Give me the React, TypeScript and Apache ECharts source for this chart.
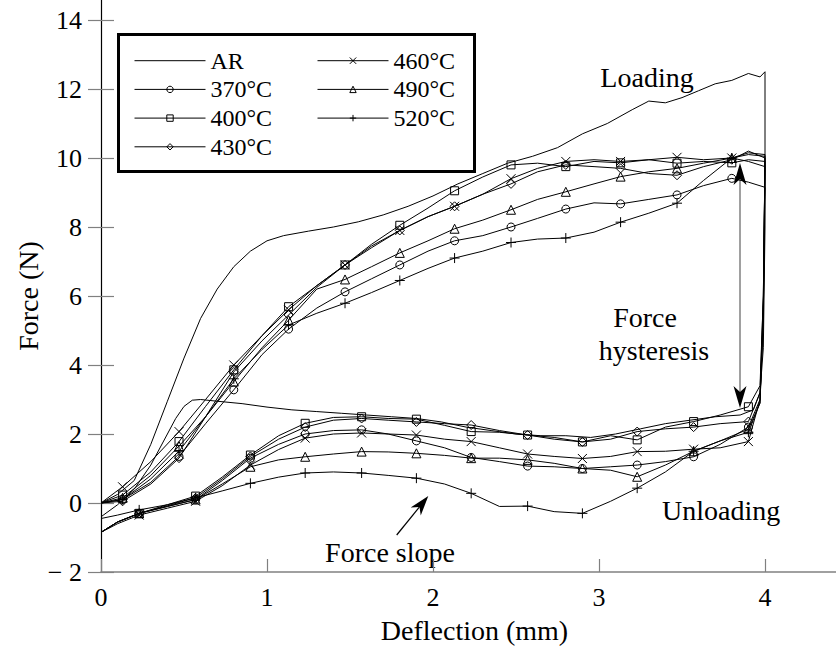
import React, { useEffect, useRef } from 'react';
import * as echarts from 'echarts';

const FONT = "'Liberation Serif', 'Times New Roman', serif";

// ---- data ----
const LOAD_X = [0, 0.13, 0.3, 0.47, 0.63, 0.8, 0.97, 1.13, 1.3, 1.47, 1.63, 1.8, 1.97, 2.13, 2.3, 2.47, 2.63, 2.8, 2.97, 3.13, 3.3, 3.47, 3.63, 3.8, 3.9, 4.0];
const UNLOAD_X = [4.0, 3.99, 3.97, 3.9, 3.73, 3.57, 3.4, 3.23, 3.07, 2.9, 2.73, 2.57, 2.4, 2.23, 2.07, 1.9, 1.73, 1.57, 1.4, 1.23, 1.07, 0.9, 0.73, 0.57, 0.4, 0.23, 0.1, 0];
const LOAD_MARK_X = [0.13, 0.47, 0.8, 1.13, 1.47, 1.8, 2.13, 2.47, 2.8, 3.13, 3.47, 3.8];
const UNLOAD_MARK_X = [3.9, 3.57, 3.23, 2.9, 2.57, 2.23, 1.9, 1.57, 1.23, 0.9, 0.57, 0.23];

const L370 = [0, 0.1, 0.6, 1.35, 2.3, 3.28, 4.3, 5.04, 5.65, 6.12, 6.5, 6.9, 7.3, 7.6, 7.75, 8.0, 8.25, 8.52, 8.7, 8.67, 8.8, 8.93, 9.2, 9.41, 9.3, 9.15];
const L400 = [0, 0.23, 0.9, 1.78, 2.8, 3.86, 4.85, 5.69, 6.3, 6.9, 7.5, 8.05, 8.55, 9.05, 9.45, 9.8, 9.85, 9.75, 9.9, 9.86, 9.95, 9.85, 9.9, 9.86, 9.95, 9.9];
const L430 = [0, 0.05, 0.55, 1.3, 2.5, 3.8, 4.7, 5.45, 6.25, 6.9, 7.4, 7.9, 8.3, 8.6, 8.95, 9.25, 9.6, 9.8, 9.75, 9.7, 9.55, 9.5, 9.75, 9.95, 10.2, 10.0];
const L460 = [0, 0.47, 1.2, 2.07, 3.0, 4.0, 4.85, 5.6, 6.3, 6.9, 7.45, 7.9, 8.3, 8.6, 8.95, 9.4, 9.7, 9.9, 9.95, 9.9, 9.95, 10.02, 9.95, 10.0, 10.15, 10.1];
const L490 = [0, 0.15, 0.8, 1.65, 2.5, 3.52, 4.5, 5.3, 6.2, 6.48, 6.85, 7.25, 7.6, 7.95, 8.2, 8.5, 8.8, 9.02, 9.25, 9.46, 9.6, 9.7, 9.85, 10.0, 9.9, 9.75];
const L520 = [0, 0.1, 0.7, 1.5, 2.5, 3.6, 4.45, 5.16, 5.5, 5.79, 6.1, 6.45, 6.8, 7.1, 7.3, 7.55, 7.65, 7.68, 7.85, 8.14, 8.4, 8.69, 9.35, 10.0, 10.1, 10.05];

const U370 = [9.15, 5.5, 3.0, 2.2, 1.7, 1.34, 1.2, 1.1, 1.05, 1.0, 1.05, 1.07, 1.2, 1.32, 1.6, 1.8, 2.0, 2.12, 2.1, 2.0, 1.7, 1.3, 0.65, 0.1, -0.1, -0.3, -0.55, -0.85];
const U400 = [9.9, 6.0, 3.4, 2.79, 2.55, 2.36, 2.2, 1.83, 1.95, 1.77, 1.85, 1.97, 2.05, 2.07, 2.25, 2.43, 2.45, 2.5, 2.48, 2.31, 1.95, 1.39, 0.75, 0.2, -0.05, -0.3, -0.55, -0.85];
const U430 = [10.0, 6.0, 3.2, 2.36, 2.3, 2.2, 2.15, 2.07, 1.85, 1.77, 1.9, 1.97, 2.1, 2.26, 2.3, 2.35, 2.4, 2.45, 2.4, 2.2, 1.85, 1.35, 0.7, 0.15, -0.08, -0.3, -0.55, -0.85];
const U460 = [10.1, 5.8, 3.0, 1.78, 1.6, 1.56, 1.5, 1.49, 1.35, 1.29, 1.35, 1.42, 1.6, 1.78, 1.85, 1.97, 2.0, 2.03, 2.0, 1.88, 1.55, 1.1, 0.5, 0.05, -0.15, -0.35, -0.6, -0.85];
const U490 = [9.75, 5.5, 2.9, 2.14, 1.8, 1.5, 1.1, 0.76, 0.95, 1.0, 1.15, 1.25, 1.3, 1.3, 1.38, 1.44, 1.48, 1.49, 1.42, 1.34, 1.25, 1.05, 0.55, 0.1, -0.1, -0.3, -0.55, -0.85];
const U520 = [10.05, 5.5, 2.9, 2.05, 1.8, 1.5, 0.9, 0.43, 0.05, -0.3, -0.25, -0.09, -0.1, 0.28, 0.55, 0.72, 0.8, 0.87, 0.9, 0.87, 0.75, 0.57, 0.35, 0.15, -0.05, -0.2, -0.35, -0.45];

const AR_LOAD_X = [0, 0.1, 0.2, 0.3, 0.4, 0.5, 0.6, 0.7, 0.8, 0.9, 1.0, 1.1, 1.25, 1.4, 1.55, 1.7, 1.85, 2.0, 2.15, 2.3, 2.45, 2.6, 2.75, 2.9, 3.05, 3.2, 3.3, 3.4, 3.5, 3.6, 3.7, 3.8, 3.9, 3.97, 4.0];
const AR_LOAD_Y = [0, 0.25, 0.65, 1.7, 2.95, 4.2, 5.35, 6.2, 6.85, 7.3, 7.6, 7.75, 7.88, 8.0, 8.15, 8.35, 8.6, 8.9, 9.25, 9.55, 9.85, 10.05, 10.3, 10.7, 11.0, 11.4, 11.65, 11.6, 11.75, 11.95, 12.15, 12.25, 12.45, 12.35, 12.5];
const AR_UNLOAD_X = [4.0, 4.0, 3.99, 3.97, 3.93, 3.85, 3.7, 3.55, 3.4, 3.25, 3.1, 2.95, 2.8, 2.65, 2.5, 2.35, 2.2, 2.05, 1.9, 1.75, 1.6, 1.45, 1.3, 1.15, 1.0, 0.85, 0.7, 0.6, 0.55, 0.5, 0.45, 0.4, 0.3, 0.2, 0.1, 0];
const AR_UNLOAD_Y = [12.5, 8.0, 4.5, 3.2, 2.7, 2.55, 2.5, 2.4, 2.3, 2.15, 2.0, 1.9, 1.95, 1.95, 2.0, 2.1, 2.2, 2.35, 2.45, 2.5, 2.55, 2.6, 2.65, 2.7, 2.78, 2.88, 2.95, 3.0, 2.98, 2.8, 2.45, 2.0, 1.1, 0.4, -0.05, -0.4];

const SERIES_NAMES = ['AR', '370°C', '400°C', '430°C', '460°C', '490°C', '520°C'];
const LEGEND_COL1 = ['AR', '370°C', '400°C', '430°C'];
const LEGEND_COL2 = ['460°C', '490°C', '520°C'];

const X_TICKS = [0, 1, 2, 3, 4];

// ---- helpers ----
const near = (a: number, list: number[]) => list.some((v) => Math.abs(v - a) < 1e-6);
function branch(xs: number[], ys: number[], marks: number[]) {
  return xs.map((x, i) =>
    near(x, marks) ? { value: [x, ys[i]] } : { value: [x, ys[i]], symbol: 'none' }
  );
}

const SYM_X = 'path://M0 0L10 10M10 0L0 10';
const SYM_PLUS = 'path://M5 0L5 10M0 5L10 5';

const markerCurves = [
  { name: SERIES_NAMES[1], symbol: 'circle', size: 8, load: L370, unload: U370 },
  { name: SERIES_NAMES[2], symbol: 'rect', size: 8, load: L400, unload: U400 },
  { name: SERIES_NAMES[3], symbol: 'diamond', size: 9, load: L430, unload: U430 },
  { name: SERIES_NAMES[4], symbol: SYM_X, size: 9, load: L460, unload: U460 },
  { name: SERIES_NAMES[5], symbol: 'triangle', size: 9, load: L490, unload: U490 },
  { name: SERIES_NAMES[6], symbol: SYM_PLUS, size: 10, load: L520, unload: U520 },
];

function buildOption(): any {
  const series: any[] = [
    {
      type: 'line',
      name: SERIES_NAMES[0],
      symbol: 'none',
      showSymbol: false,
      data: [
        ...AR_LOAD_X.map((x, i) => [x, AR_LOAD_Y[i]]),
        ...AR_UNLOAD_X.map((x, i) => [x, AR_UNLOAD_Y[i]]),
      ],
      lineStyle: { color: '#000', width: 1 },
      itemStyle: { color: 'rgba(0,0,0,0)', borderColor: 'rgba(0,0,0,0)', borderWidth: 0 },
      silent: true,
    },
    ...markerCurves.map((c) => ({
      type: 'line',
      name: c.name,
      symbol: c.symbol,
      symbolSize: c.size,
      showSymbol: true,
      showAllSymbol: true,
      data: [...branch(LOAD_X, c.load, LOAD_MARK_X), ...branch(UNLOAD_X, c.unload, UNLOAD_MARK_X)],
      lineStyle: { color: '#000', width: 1 },
      itemStyle: { color: 'rgba(0,0,0,0)', borderColor: '#000', borderWidth: 1 },
      silent: true,
    })),
  ];

  const legendBase = {
    orient: 'vertical',
    top: 48.7,
    padding: 0,
    itemGap: 4.7,
    itemWidth: 71,
    itemHeight: 8,
    itemTextGap: 10,
    selectedMode: false,
    textStyle: { fontFamily: FONT, fontSize: 24, color: '#000', lineHeight: 24 },
    itemStyle: { color: 'rgba(0,0,0,0)', borderColor: '#000', borderWidth: 1 },
    lineStyle: { color: '#000', width: 1 },
  };

  const textStyle = (text: string, x: number, y: number, align = 'center') => ({
    type: 'text',
    x,
    y,
    silent: true,
    style: {
      text,
      fill: '#000',
      fontFamily: FONT,
      fontSize: 28,
      align,
      verticalAlign: 'middle',
      textAlign: align,
      textVerticalAlign: 'middle',
    },
  });

  return {
    animation: false,
    backgroundColor: '#fff',
    grid: { left: 101, top: -49, width: 747, height: 621, outerBoundsMode: 'none', containLabel: false },
    xAxis: {
      type: 'value',
      min: 0,
      max: 4.5,
      interval: 1,
      name: 'Deflection (mm)',
      nameLocation: 'middle',
      nameGap: 44,
      nameTextStyle: { fontFamily: FONT, fontSize: 28, color: '#000' },
      axisLine: { show: true, onZero: false, lineStyle: { color: '#808080', width: 1.5 } },
      axisTick: { show: true, inside: true, length: 13, lineStyle: { color: '#808080', width: 1.2 } },
      axisLabel: {
        margin: 12,
        fontFamily: FONT,
        fontSize: 26,
        color: '#000',
        formatter: (v: number) => (near(v, X_TICKS) ? String(v) : ''),
      },
      splitLine: { show: false },
    },
    yAxis: [
      {
        type: 'value',
        min: -2,
        max: 16,
        interval: 2,
        position: 'left',
        axisLine: { show: true, onZero: false, lineStyle: { color: '#000', width: 1.2 } },
        axisTick: { show: true, inside: true, length: 13, lineStyle: { color: '#808080', width: 1.2 } },
        axisLabel: {
          margin: 19,
          fontFamily: FONT,
          fontSize: 26,
          color: '#000',
          formatter: (v: number) => (v > 14 ? '' : v < 0 ? '\u2212 ' + Math.abs(v) : String(v)),
        },
        splitLine: { show: false },
      },
      {
        type: 'value',
        min: -2,
        max: 16,
        interval: 2,
        position: 'right',
        axisLine: { show: false },
        axisTick: { show: true, inside: true, length: 13, lineStyle: { color: '#808080', width: 1.2 } },
        axisLabel: { show: false },
        splitLine: { show: false },
      },
    ],
    legend: [
      {
        ...legendBase,
        left: 134,
        data: LEGEND_COL1.map((n) =>
          n === 'AR' ? { name: n, itemStyle: { borderColor: 'rgba(0,0,0,0)', borderWidth: 0 } } : { name: n }
        ),
      },
      { ...legendBase, left: 317, data: LEGEND_COL2.map((n) => ({ name: n })) },
    ],
    series,
    graphic: [
      {
        type: 'rect',
        silent: true,
        z: 100,
        shape: { x: 118.5, y: 34.5, width: 356, height: 137 },
        style: { fill: 'none', stroke: '#000', lineWidth: 3 },
      },
      {
        type: 'text',
        x: 28,
        y: 296,
        rotation: Math.PI / 2,
        silent: true,
        style: {
          text: 'Force (N)',
          fill: '#000',
          fontFamily: FONT,
          fontSize: 28,
          align: 'center',
          verticalAlign: 'middle',
          textAlign: 'center',
          textVerticalAlign: 'middle',
        },
      },
      textStyle('Loading', 647, 77),
      textStyle('Force', 645, 317),
      textStyle('hysteresis', 654, 350),
      textStyle('Unloading', 662, 510, 'left'),
      textStyle('Force slope', 390, 552),
      // hysteresis double arrow
      {
        type: 'line',
        silent: true,
        shape: { x1: 740, y1: 178, x2: 740, y2: 393 },
        style: { stroke: '#808080', lineWidth: 1.5 },
      },
      {
        type: 'polygon',
        silent: true,
        shape: { points: [[740, 163], [733.5, 185], [740, 179], [746.5, 185]] },
        style: { fill: '#000' },
      },
      {
        type: 'polygon',
        silent: true,
        shape: { points: [[740, 408], [733.5, 386], [740, 392], [746.5, 386]] },
        style: { fill: '#000' },
      },
      // force slope arrow
      {
        type: 'line',
        silent: true,
        shape: { x1: 396.7, y1: 535, x2: 419.5, y2: 506.9 },
        style: { stroke: '#000', lineWidth: 1.2 },
      },
      {
        type: 'polygon',
        silent: true,
        shape: { points: [[428.3, 496], [410.65, 507.4], [419.5, 506.9], [420.75, 515.6]] },
        style: { fill: '#000' },
      },
    ],
  };
}

export default function App() {
  const ref = useRef<HTMLDivElement>(null);
  useEffect(() => {
    if (!ref.current) return;
    const chart = echarts.init(ref.current, null, { renderer: 'svg' });
    chart.setOption(buildOption());
    return () => chart.dispose();
  }, []);
  return (
    <div
      ref={ref}
      style={{ position: 'absolute', left: 0, top: 0, width: 836, height: 657, background: '#fff' }}
    />
  );
}
